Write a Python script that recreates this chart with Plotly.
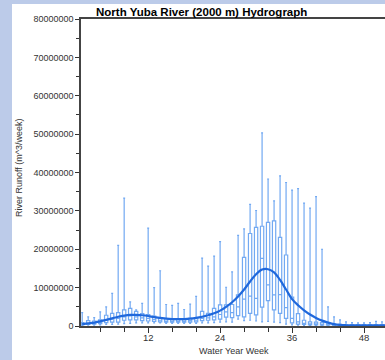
import plotly.graph_objects as go

weeks = list(range(1, 53))
M = 1e6
# box statistics per week (millions of m^3/week)
lower = [0.1, 0.2, 0.2, 0.3, 0.4, 0.4, 0.5, 0.6, 0.7, 0.8, 0.8, 0.8, 0.8, 0.8, 0.7, 0.7, 0.7, 0.7, 0.7, 0.7,
         0.8, 0.8, 0.9, 1.0, 1.1, 1.0, 1.8, 1.4, 1.5, 1.3, 1.1, 1.2, 1.0, 0.9, 0.5, 0.3, 0.2, 0.1, 0.1, 0.1,
         0.1, 0.05, 0.05, 0.03, 0.03, 0.03, 0.03, 0.03, 0.03, 0.03, 0.03, 0.03]
q1 = [0.3, 0.4, 0.5, 0.6, 0.9, 1.0, 1.0, 1.5, 1.6, 1.6, 1.4, 1.3, 1.2, 1.1, 1.0, 1.0, 1.0, 1.0, 1.0, 1.1,
      1.4, 1.5, 1.6, 1.8, 2.3, 2.2, 2.7, 2.4, 3.3, 2.9, 4.9, 6.6, 4.2, 3.3, 2.0, 0.8, 0.5, 0.4, 0.3, 0.3,
      0.2, 0.2, 0.1, 0.1, 0.1, 0.1, 0.1, 0.1, 0.1, 0.1, 0.1, 0.1]
median = [0.5, 0.7, 0.8, 0.9, 1.5, 1.8, 2.0, 2.4, 2.6, 2.4, 2.1, 2.0, 1.7, 1.5, 1.3, 1.3, 1.3, 1.3, 1.4, 1.5,
          2.0, 2.1, 2.4, 3.0, 3.7, 3.5, 5.0, 7.0, 7.8, 7.2, 17.6, 10.7, 8.1, 8.2, 4.8, 2.0, 1.1, 0.7, 0.5, 0.5,
          0.4, 0.3, 0.2, 0.2, 0.15, 0.15, 0.15, 0.15, 0.15, 0.15, 0.15, 0.15]
q3 = [0.9, 1.4, 1.3, 1.6, 2.8, 3.3, 3.5, 4.2, 4.6, 3.8, 3.2, 3.0, 2.6, 2.2, 1.9, 1.8, 1.9, 1.9, 2.0, 2.2,
      3.8, 3.3, 4.6, 5.5, 5.5, 5.6, 8.1, 17.9, 24.1, 25.7, 26.0, 27.0, 27.4, 23.1, 18.5, 7.5, 3.2, 1.5, 1.1, 1.0,
      0.9, 0.6, 0.5, 0.4, 0.3, 0.3, 0.3, 0.3, 0.3, 0.3, 0.3, 0.3]
upper = [3.5, 2.4, 2.2, 3.7, 5.0, 8.5, 21.0, 33.3, 6.3, 4.2, 5.9, 25.5, 10.0, 14.4, 5.6, 5.4, 5.9, 4.3, 5.7, 7.7,
         17.7, 15.6, 18.2, 22.0, 10.1, 14.1, 23.6, 25.3, 31.7, 30.1, 50.3, 38.3, 32.6, 39.1, 37.4, 35.4, 35.8, 32.0, 30.7, 33.7,
         20.0, 5.0, 2.4, 1.6, 1.1, 0.9, 0.8, 0.8, 0.9, 1.2, 1.1, 1.0]
mean = [0.5, 0.7, 0.9, 1.2, 1.6, 2.0, 2.4, 2.7, 2.9, 2.9, 2.8, 2.6, 2.3, 2.1, 1.9, 1.8, 1.8, 1.8, 1.9, 2.1,
        2.4, 2.8, 3.3, 4.0, 5.0, 6.2, 7.7, 9.5, 11.6, 13.5, 14.7, 14.8, 14.0, 12.0, 9.5, 7.0, 5.4, 4.1, 3.0, 2.1,
        1.4, 0.9, 0.5, 0.3, 0.2, 0.15, 0.15, 0.15, 0.15, 0.15, 0.15, 0.15]

y_ticks = [0, 10000000, 20000000, 30000000, 40000000, 50000000, 60000000, 70000000, 80000000]
x_ticks = [12, 24, 36, 48]

sc = lambda a: [v * M for v in a]

W, H = 385, 360
ml, mr, mt, mb = 81, 0, 19, 34
pw, ph = W - ml - mr, H - mt - mb
FONT = "Arial, Liberation Sans, sans-serif"

fig = go.Figure()
fig.add_trace(go.Box(
    x=weeks, q1=sc(q1), median=sc(median), q3=sc(q3),
    lowerfence=sc(lower), upperfence=sc(upper),
    boxpoints=False, fillcolor="white",
    line=dict(color="#72a9f2", width=1.2),
    whiskerwidth=0.6, width=0.55, showlegend=False, hoverinfo="skip",
))
fig.add_trace(go.Scatter(
    x=weeks, y=sc(mean), mode="lines",
    line=dict(color="#1f68dc", width=2.2, shape="spline", smoothing=1.0),
    showlegend=False, hoverinfo="skip",
))

fig.update_layout(
    width=W, height=H,
    margin=dict(l=ml, r=mr, t=mt, b=mb, pad=0),
    paper_bgcolor="#bccbe9", plot_bgcolor="white",
    font=dict(family=FONT, size=10, color="#333333"),
    shapes=[dict(type="rect", xref="paper", yref="paper",
                 x0=(12 - ml) / pw, x1=1.2, y0=-0.5, y1=(H - mb - 4) / ph,
                 fillcolor="white", line=dict(width=0), layer="below")],
    annotations=[
        dict(text="<b>North Yuba River (2000 m) Hydrograph</b>", xref="paper", yref="paper",
             x=(201 - ml) / pw, y=1, yanchor="bottom", xanchor="center", yshift=-1,
             showarrow=False, font=dict(family=FONT, size=11.5, color="black")),
        dict(text="River Runoff (m^3/week)", xref="paper", yref="paper",
             x=(19 - ml) / pw, y=(H - mb - 168) / ph, textangle=-90,
             xanchor="center", yanchor="middle", showarrow=False,
             font=dict(family=FONT, size=9, color="#333333")),
        dict(text="Water Year Week", xref="paper", yref="paper",
             x=(234 - ml) / pw, y=-(351 - (H - mb)) / ph, xanchor="center", yanchor="middle",
             showarrow=False, font=dict(family=FONT, size=9, color="#333333")),
    ],
    xaxis=dict(range=[0.8, 51.5], tickvals=x_ticks, ticks="outside", ticklen=5,
               tickcolor="#333333", showgrid=False, zeroline=False,
               showline=True, linecolor="#444444", linewidth=1.5, mirror=True,
               ticklabelstandoff=-3,
               minor=dict(ticks="outside", dtick=4, tick0=0, ticklen=4, tickcolor="#333333"),
               tickfont=dict(size=9.5, color="#333333")),
    yaxis=dict(range=[0, 80000000], tickvals=y_ticks, tickformat="d", ticks="outside", ticklen=4,
               tickcolor="#333333", showgrid=False, zeroline=False,
               showline=True, linecolor="#444444", linewidth=1.5,
               minor=dict(ticks="outside", dtick=5000000, ticklen=3, tickcolor="#333333"),
               tickfont=dict(size=9, color="#333333")),
)

fig.write_html("out.html")
